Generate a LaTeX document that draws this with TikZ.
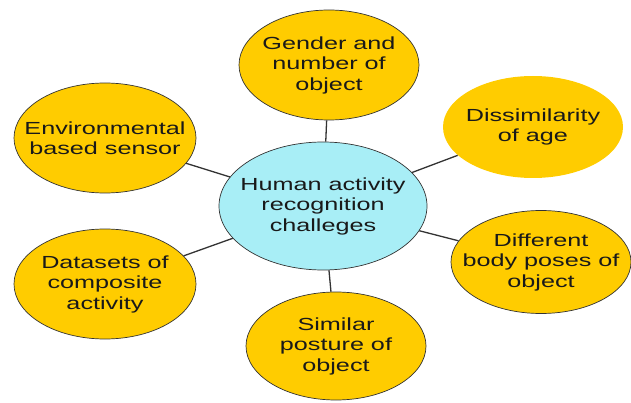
\documentclass[tikz,border=0pt]{standalone}
\usepackage{fontspec}
\setmainfont{Liberation Sans}[FakeStretch=1.44]
\usetikzlibrary{shapes.geometric}

\definecolor{gold}{RGB}{255,204,0}
\definecolor{skyblue}{RGB}{168,238,246}

\begin{document}
\begin{tikzpicture}[x=1pt,y=1pt]
     \useasboundingbox (0,0) rectangle (631,402);

     \begin{scope}[
     every node/.style={ellipse, draw=black!80, line width=0.7pt, inner sep=0pt},
     every label/.style={draw=none, align=center, text=black!90, font=\fontsize{17.5}{20.5}\selectfont},
     challenge/.style={fill=gold, minimum width=180pt, minimum height=108pt}]

     \node[fill=skyblue, minimum width=208pt, minimum height=128pt,
           label=center:{Human activity\\recognition\\challeges}] (Human) at (323,196) {};

     \node[challenge, minimum height=110pt, label=center:{Gender and\\number of\\object}] (Gender) at (329,337) {};
     \node[challenge, draw=none, minimum height=102pt, label=center:{Dissimilarity\\of age}] (Dissimilarity) at (533,275) {};
     \node[challenge, minimum width=182pt, minimum height=110pt, label=center:{Environmental\\based sensor}] (Environmental) at (105,264) {};
     \node[challenge, minimum width=182pt, minimum height=110pt, label=center:{Datasets of\\composite\\activity}] (Datasets) at (105,118) {};
     \node[challenge, minimum height=103pt, label=center:{Different\\body poses of\\object}] (Different) at (541,140) {};
     \node[challenge, label=center:{Similar\\posture of\\object}] (Similar) at (336,56) {};
     \end{scope}

     % spokes from the hub
     \foreach \n in {Gender,Dissimilarity,Environmental,Datasets,Different,Similar}
        \draw[black!80, line width=1.3pt] (Human) -- (\n);
\end{tikzpicture}
\end{document}
